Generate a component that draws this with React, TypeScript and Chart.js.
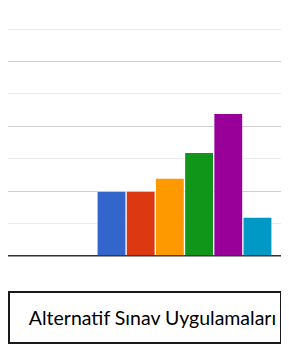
import React, { useEffect, useRef } from "react";
import { Chart, registerables } from "chart.js";

Chart.register(...registerables);

const categories = ["1", "2", "3", "4", "5", "6"];
const values = [2, 2, 2.4, 3.2, 4.4, 1.2];
const colors = ["#3366cc", "#dc3912", "#ff9900", "#109618", "#990099", "#0099c6"];
const legendTitle = "Alternatif Sınav Uygulamaları";

export default function App() {
  const ref = useRef<HTMLCanvasElement | null>(null);
  useEffect(() => {
    if (!ref.current) return;
    const chart = new Chart(ref.current, {
      type: "bar",
      data: {
        datasets: [
          {
            label: legendTitle,
            data: categories.map((c, i) => ({ x: i, y: values[i] })),
            backgroundColor: colors,
            borderColor: "rgba(255,255,255,0.55)",
            borderWidth: 1,
            barPercentage: 1,
            categoryPercentage: 1,
          },
        ],
      },
      options: {
        animation: false,
        responsive: true,
        maintainAspectRatio: false,
        layout: { padding: { top: 21, bottom: 2, left: 0, right: 0 } },
        plugins: { legend: { display: false }, tooltip: { enabled: false } },
        scales: {
          x: {
            type: "linear",
            display: false,
            offset: false,
            grid: { offset: false },
            min: -3.545,
            max: 5.84,
            ticks: { stepSize: 1 },
          },
          y: {
            min: 0,
            max: 7,
            ticks: { display: false, stepSize: 1 },
            border: { display: false },
            grid: {
              drawTicks: false,
              color: (ctx: any) =>
                ctx.tick.value === 0 ? "#333333" : ctx.tick.value % 2 === 0 ? "#cfcfcf" : "#ebebeb",
              lineWidth: (ctx: any) => (ctx.tick.value === 0 ? 1.5 : 1),
            },
          },
        },
      },
    });
    return () => chart.destroy();
  }, []);
  return (
    <div style={{ width: 274 }}>
      <div style={{ position: "relative", height: 250 }}>
        <canvas ref={ref} />
      </div>
      <div
        style={{
          marginTop: 33,
          height: 49,
          border: "2px solid #1a1a1a",
          boxShadow: "0 1px 1px #888",
          display: "flex",
          alignItems: "center",
          justifyContent: "center",
          paddingLeft: 15,
          fontFamily: "Lato, sans-serif",
          fontSize: 19.5,
          color: "#000",
          boxSizing: "border-box",
          width: 274,
          height: 53,
          whiteSpace: "nowrap",
        }}
      >
        {legendTitle}
      </div>
    </div>
  );
}
